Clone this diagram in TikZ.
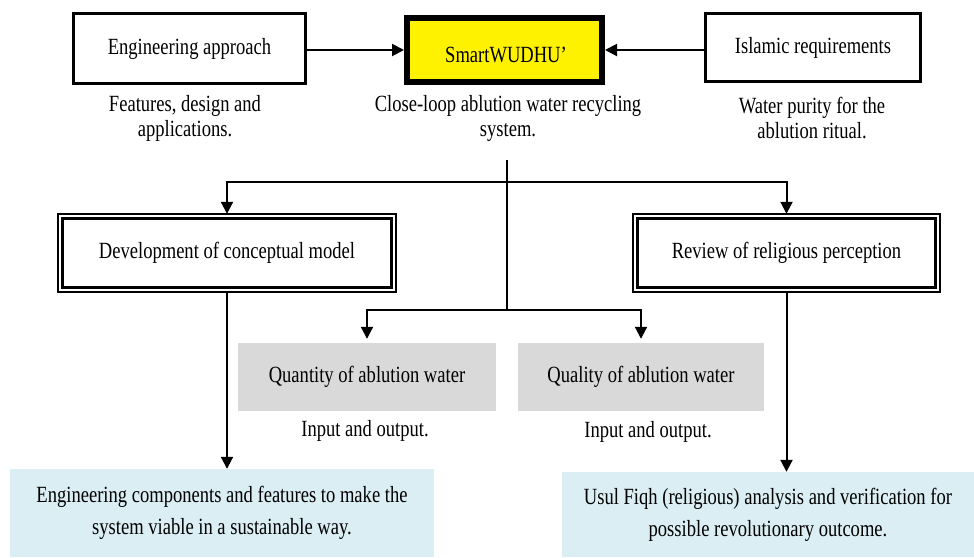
\documentclass[tikz,border=0pt]{standalone}
\usepackage{fontspec}
\setmainfont{Liberation Serif}[FakeStretch=0.8]
\usetikzlibrary{arrows.meta}
\definecolor{qgray}{RGB}{217,217,217}
\definecolor{lblue}{RGB}{218,238,243}
\begin{document}
\begin{tikzpicture}[x=1pt,y=-1pt,
  font=\fontsize{23.2}{25}\selectfont,
  conn/.style={line width=2pt},
  arr/.style={line width=2pt,-{Triangle[length=12pt,width=12pt]}},
  plainbox/.style={draw,line width=3pt,fill=white,inner sep=0pt},
  dblbox/.style={draw,line width=1.6pt,outer sep=0pt,inner sep=0pt},
  graybox/.style={fill=qgray,inner sep=0pt},
  bluebox/.style={fill=lblue,inner sep=0pt,align=center,font=\fontsize{23.2}{32}\selectfont},
  caption/.style={align=center,inner sep=0pt}]
\useasboundingbox (0,0) rectangle (974,557);

% top row
\node[plainbox,minimum width=232pt,minimum height=70pt] (eng) at (189.5,48.5) {Engineering approach};
\node[draw,line width=6pt,fill=yellow,minimum width=195pt,minimum height=64pt] (smart) at (504.5,50) {};
\node[inner sep=0pt] (smarttxt) at (506,55) {SmartWUDHU'};
\node[plainbox,minimum width=215pt,minimum height=68pt] (isl) at (813,47.5) {Islamic requirements};

% captions
\node[caption] (capeng) at (185,118) {Features, design and\\applications.};
\node[caption] (capsmart) at (508,118) {Close-loop ablution water recycling\\system.};
\node[caption] (capisl) at (812,118) {Water purity for the\\ablution ritual.};

% double boxes
\node[dblbox,minimum width=338.4pt,minimum height=78.4pt] (dev) at (227,253) {Development of conceptual model};
\draw[line width=3pt] ([xshift=4.3pt,yshift=-4.3pt]dev.north west) rectangle ([xshift=-4.3pt,yshift=4.3pt]dev.south east);
\node[dblbox,minimum width=307.4pt,minimum height=78.4pt] (rev) at (786.5,253) {Review of religious perception};
\draw[line width=3pt] ([xshift=4.3pt,yshift=-4.3pt]rev.north west) rectangle ([xshift=-4.3pt,yshift=4.3pt]rev.south east);

% gray boxes
\node[graybox,minimum width=258pt,minimum height=68pt] (qty) at (367,377) {Quantity of ablution water};
\node[caption] (qtycap) at (365,431) {Input and output.};
\node[graybox,minimum width=246pt,minimum height=68pt] (qual) at (641,377) {Quality of ablution water};
\node[caption] (qualcap) at (648,432) {Input and output.};

% blue boxes
\node[bluebox,minimum width=424pt,minimum height=88pt] (ec) at (222,513) {Engineering components and features to make the\\system viable in a sustainable way.};
\node[bluebox,minimum width=412pt,minimum height=85pt] (usul) at (768,514.5) {Usul Fiqh (religious) analysis and verification for\\possible revolutionary outcome.};

% connectors
\draw[arr] (eng.east |- smart.west) -- (smart.west);
\draw[arr] (isl.west |- smart.east) -- (smart.east);
\coordinate (trtop) at (507,160);
\coordinate (hl) at (507,182);
\coordinate (trbot) at (507,310);
\draw[conn] (trtop) -- (trbot);
\draw[arr] (hl) -| (dev.north);
\draw[arr] (hl) -| (rev.north);
\draw[arr,shorten >=4pt] (trbot) -| (qty.north);
\draw[arr,shorten >=4pt] (trbot) -| (qual.north);
\draw[arr] (dev.south) -- (dev.south |- ec.north);
\draw[arr] (rev.south) -- (rev.south |- usul.north);
\end{tikzpicture}
\end{document}
